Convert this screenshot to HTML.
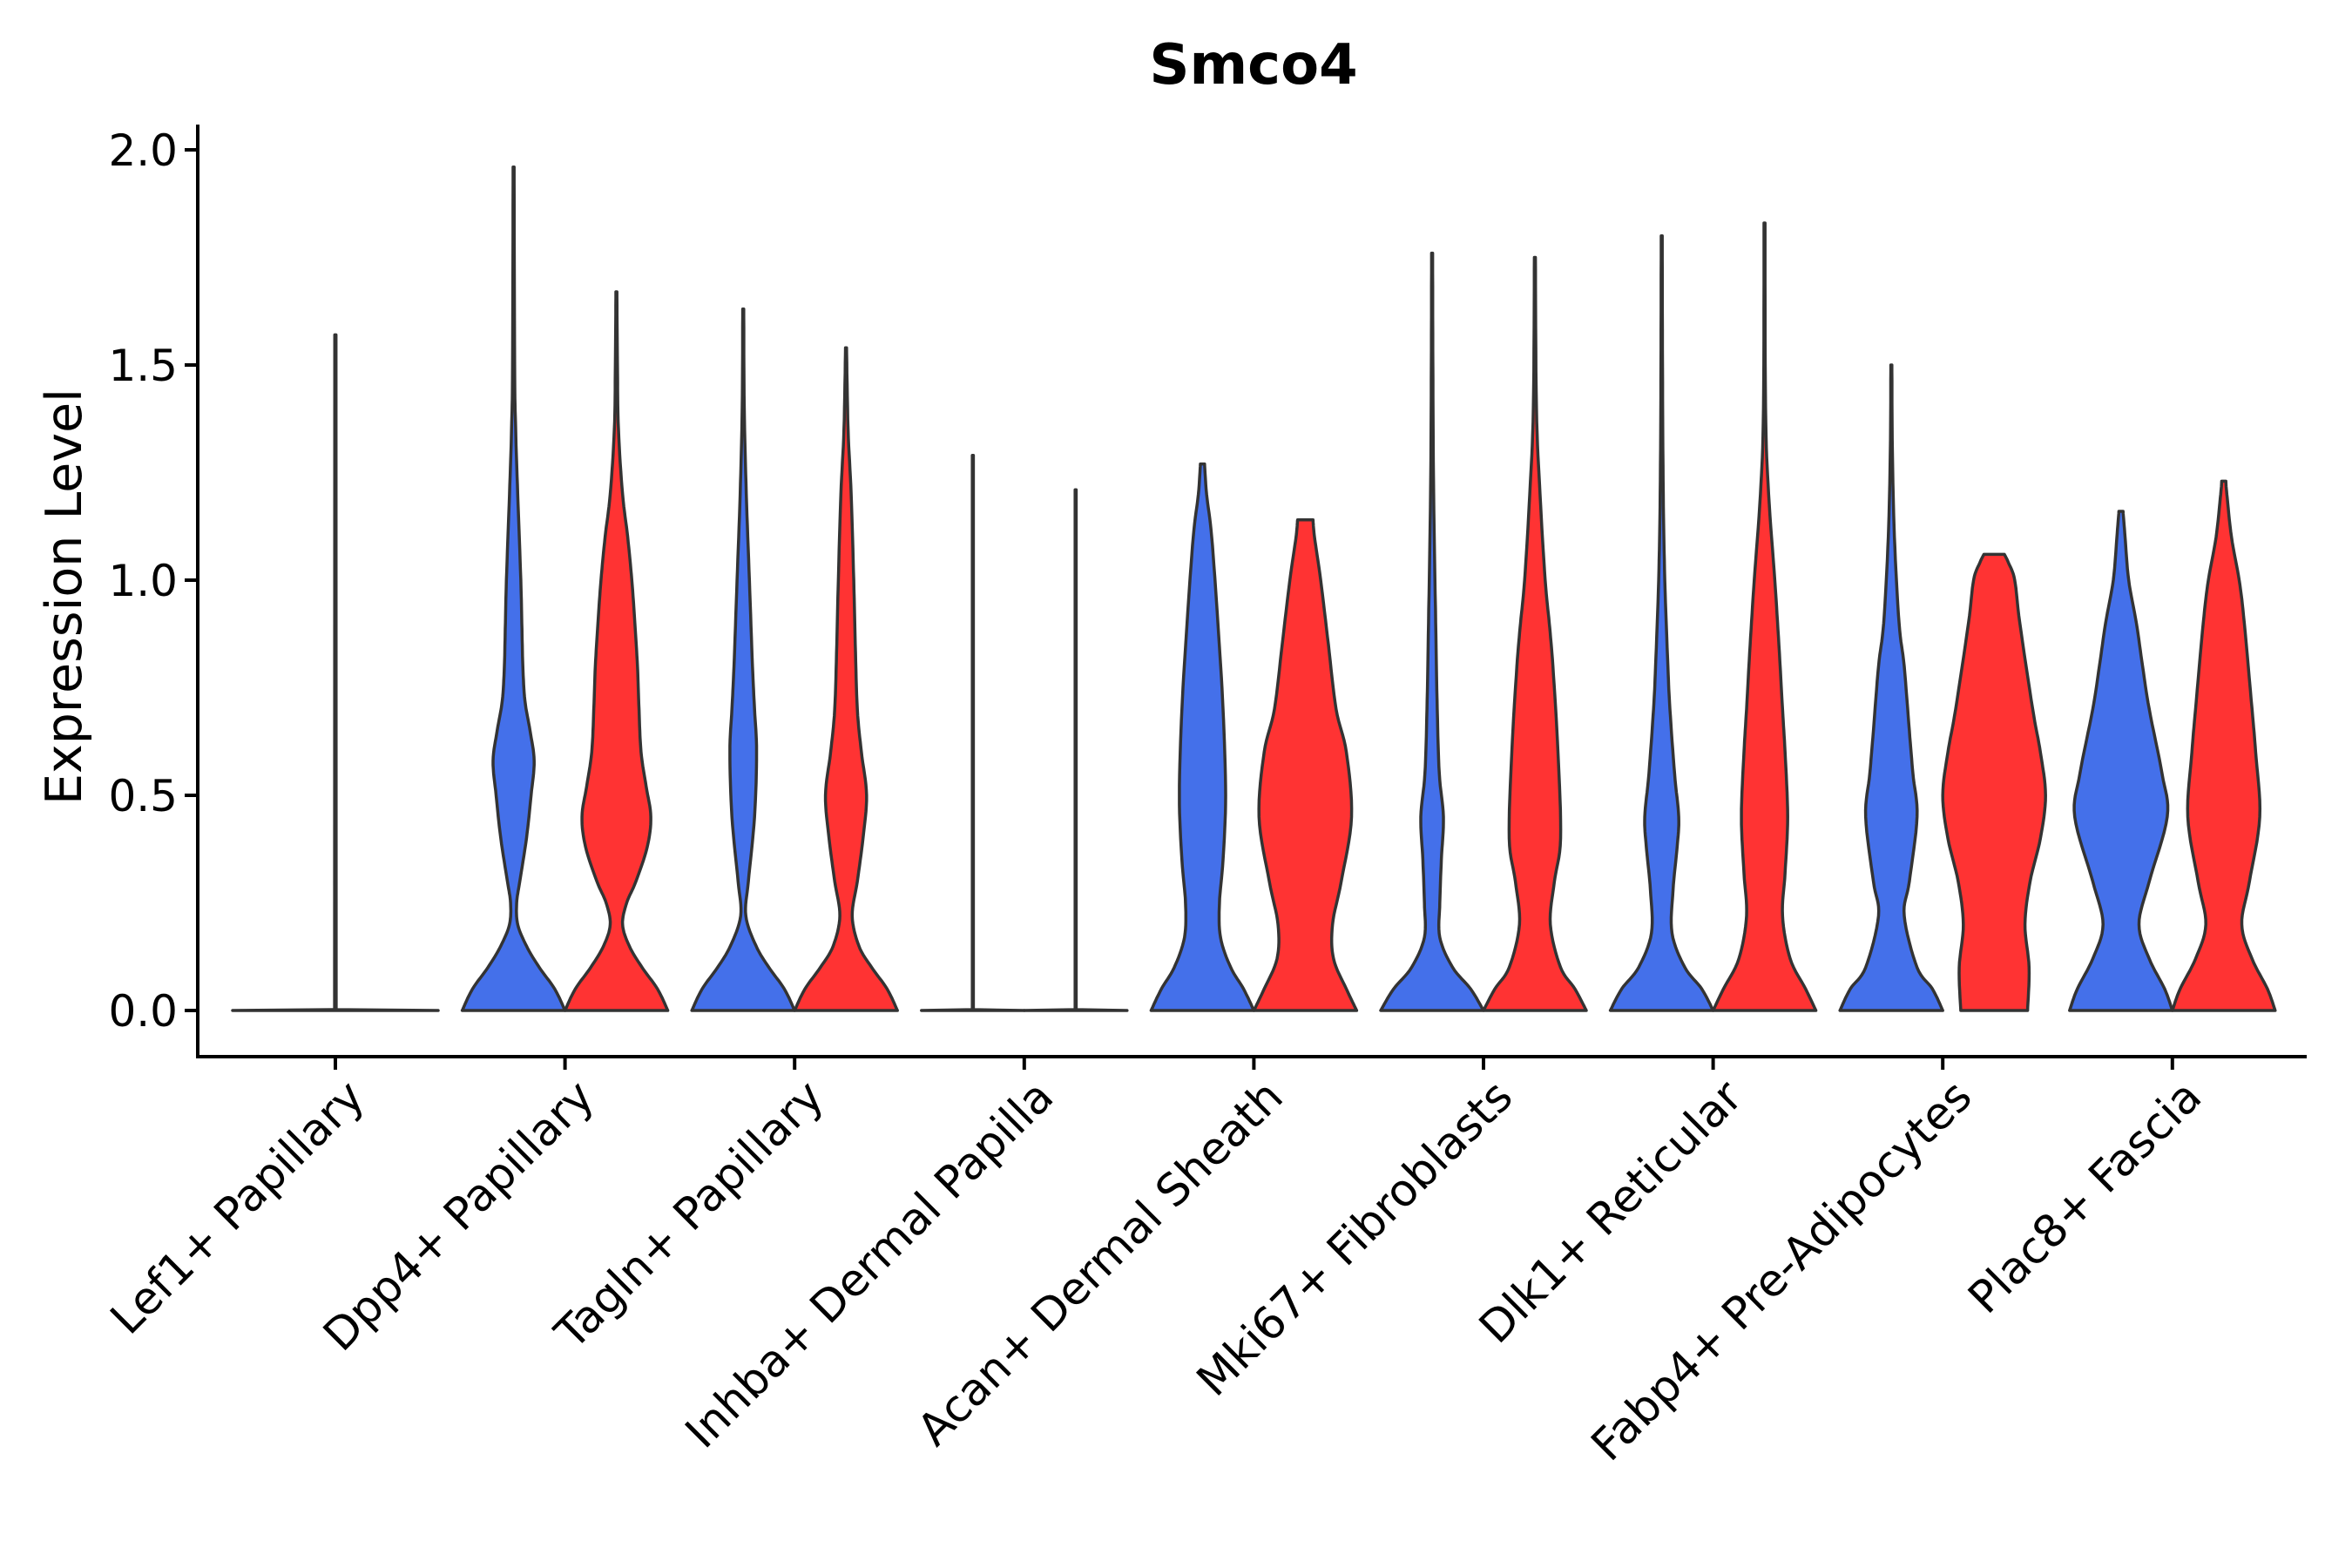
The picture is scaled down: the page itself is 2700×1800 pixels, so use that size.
<!DOCTYPE html>
<html><head><meta charset="utf-8"><style>
html,body{margin:0;padding:0;background:#fff;}
svg{display:block;font-family:"DejaVu Sans","Liberation Sans",sans-serif;}
</style></head><body>
<svg id="chart" width="2700" height="1800" viewBox="0 0 2700 1800" xmlns="http://www.w3.org/2000/svg">
<text x="1439" y="96" text-anchor="middle" font-size="64" font-weight="bold">Smco4</text>
<text transform="translate(93,685) rotate(-90)" text-anchor="middle" font-size="57">Expression Level</text>
<g id="plot"></g>
</svg>
<script>
const categories = ["Lef1+ Papillary","Dpp4+ Papillary","Tagln+ Papillary","Inhba+ Dermal Papilla","Acan+ Dermal Sheath","Mki67+ Fibroblasts","Dlk1+ Reticular","Fabp4+ Pre-Adipocytes","Plac8+ Fascia"];
const yTicks = [0, 0.5, 1.0, 1.5, 2.0];
const yTickLabels = ["0.0","0.5","1.0","1.5","2.0"];
// profiles: [expression value, relative density width]
const blueProfiles = [
 null,
 [[0,1],[0.05,0.8],[0.1,0.5],[0.15,0.25],[0.2,0.08],[0.25,0.06],[0.3,0.12],[0.4,0.25],[0.5,0.34],[0.58,0.4],[0.65,0.32],[0.72,0.22],[0.8,0.18],[0.9,0.16],[1.0,0.14],[1.2,0.08],[1.35,0.04],[1.5,0.02],[1.96,0.01]],
 [[0,1],[0.05,0.8],[0.1,0.5],[0.15,0.25],[0.22,0.05],[0.3,0.1],[0.45,0.22],[0.6,0.26],[0.7,0.22],[0.8,0.18],[1.0,0.12],[1.2,0.06],[1.4,0.02],[1.63,0.01]],
 [[0,1],[0.002,0.01],[1.29,0.01]],
 [[0,1],[0.05,0.8],[0.1,0.55],[0.17,0.35],[0.25,0.33],[0.35,0.4],[0.5,0.45],[0.7,0.4],[0.9,0.3],[1.1,0.18],[1.2,0.08],[1.27,0.04]],
 [[0,1],[0.05,0.75],[0.1,0.4],[0.17,0.15],[0.25,0.15],[0.35,0.18],[0.45,0.22],[0.55,0.14],[0.7,0.1],[0.9,0.07],[1.2,0.03],[1.5,0.015],[1.76,0.01]],
 [[0,1],[0.05,0.78],[0.1,0.45],[0.18,0.2],[0.28,0.22],[0.38,0.3],[0.45,0.33],[0.55,0.25],[0.7,0.16],[0.8,0.12],[1.0,0.06],[1.2,0.03],[1.5,0.015],[1.8,0.01]],
 [[0,1],[0.05,0.8],[0.1,0.5],[0.22,0.25],[0.3,0.35],[0.45,0.5],[0.55,0.42],[0.65,0.35],[0.8,0.25],[0.9,0.15],[1.1,0.06],[1.3,0.02],[1.5,0.01]],
 [[0,1],[0.05,0.85],[0.12,0.55],[0.2,0.35],[0.3,0.55],[0.45,0.9],[0.55,0.8],[0.7,0.55],[0.8,0.42],[0.9,0.3],[1.0,0.15],[1.1,0.08],[1.16,0.04]]
];
const redProfiles = [
 null,
 [[0,1],[0.05,0.8],[0.1,0.5],[0.15,0.25],[0.2,0.12],[0.25,0.2],[0.3,0.38],[0.38,0.6],[0.45,0.67],[0.52,0.58],[0.6,0.48],[0.7,0.44],[0.8,0.41],[0.9,0.36],[1.0,0.3],[1.1,0.22],[1.2,0.12],[1.35,0.04],[1.5,0.02],[1.67,0.01]],
 [[0,1],[0.05,0.8],[0.1,0.5],[0.15,0.25],[0.22,0.12],[0.3,0.22],[0.4,0.33],[0.5,0.4],[0.6,0.3],[0.7,0.22],[0.85,0.18],[1.0,0.15],[1.2,0.1],[1.35,0.04],[1.54,0.01]],
 [[0,1],[0.002,0.01],[1.21,0.01]],
 [[0,1],[0.05,0.8],[0.12,0.55],[0.2,0.53],[0.3,0.7],[0.45,0.9],[0.6,0.8],[0.7,0.6],[0.85,0.45],[1.0,0.3],[1.1,0.18],[1.14,0.15]],
 [[0,1],[0.05,0.78],[0.1,0.5],[0.2,0.3],[0.3,0.38],[0.4,0.5],[0.6,0.45],[0.8,0.35],[0.9,0.28],[1.0,0.2],[1.2,0.1],[1.4,0.03],[1.75,0.01]],
 [[0,1],[0.05,0.8],[0.12,0.5],[0.22,0.35],[0.32,0.4],[0.45,0.45],[0.6,0.4],[0.7,0.35],[0.85,0.28],[1.0,0.2],[1.2,0.08],[1.4,0.02],[1.83,0.01]],
 [[0,0.65],[0.1,0.68],[0.2,0.6],[0.3,0.7],[0.4,0.9],[0.5,1.0],[0.6,0.9],[0.7,0.75],[0.9,0.5],[1.0,0.4],[1.04,0.28],[1.06,0.2]],
 [[0,1],[0.05,0.85],[0.12,0.55],[0.2,0.35],[0.3,0.5],[0.45,0.7],[0.6,0.62],[0.7,0.55],[0.9,0.4],[1.0,0.3],[1.1,0.15],[1.2,0.06],[1.23,0.04]]
];
const singleProfiles = [[[0,1],[0.002,0.008],[1.57,0.006]],null,null,null,null,null,null,null,null];

const NS="http://www.w3.org/2000/svg";
const plot=document.getElementById('plot');
const X0=385, DX=263.6, Y0=1160, YU=494, HW=59;
function xScale(i){return X0+DX*i;}
function yScale(v){return Y0-v*YU;}
function mk(tag,attrs,parent){const e=document.createElementNS(NS,tag);for(const k in attrs)e.setAttribute(k,attrs[k]);(parent||plot).appendChild(e);return e;}

function interp(prof){
  if(prof.length<=3) return prof;
  const out=[];
  for(let k=0;k<prof.length-1;k++){
    const p0=prof[Math.max(k-1,0)],p1=prof[k],p2=prof[k+1],p3=prof[Math.min(k+2,prof.length-1)];
    const n=8;
    for(let s=0;s<n;s++){
      const t=s/n,t2=t*t,t3=t2*t;
      const f=(a,b,c,d)=>0.5*((2*b)+(-a+c)*t+(2*a-5*b+4*c-d)*t2+(-a+3*b-3*c+d)*t3);
      out.push([Math.max(0,f(p0[0],p1[0],p2[0],p3[0])),Math.max(0.004,f(p0[1],p1[1],p2[1],p3[1]))]);
    }
  }
  out.push(prof[prof.length-1]);
  return out;
}
function violinPath(cx,prof,hw){
  const pts=interp(prof);
  let d='';
  pts.forEach((p,i)=>{d+=(i?'L':'M')+(cx+p[1]*hw).toFixed(1)+','+yScale(p[0]).toFixed(1);});
  for(let i=pts.length-1;i>=0;i--){const p=pts[i];d+='L'+(cx-p[1]*hw).toFixed(1)+','+yScale(p[0]).toFixed(1);}
  return d+'Z';
}

categories.forEach((c,i)=>{
  const cx=xScale(i);
  if(singleProfiles[i]){
    const v=mk('path',{d:violinPath(cx,singleProfiles[i],HW*2),fill:'#4470ea',stroke:'#333','stroke-width':3.5,'stroke-linejoin':'round'});
    
    
  }
  if(blueProfiles[i]){
    const v=mk('path',{d:violinPath(cx-HW,blueProfiles[i],HW),fill:'#4470ea',stroke:'#333','stroke-width':3.5,'stroke-linejoin':'round'});
    
    
  }
  if(redProfiles[i]){
    const v=mk('path',{d:violinPath(cx+HW,redProfiles[i],HW),fill:'#ff3333',stroke:'#333','stroke-width':3.5,'stroke-linejoin':'round'});
    
    
  }
  const t=mk('line',{x1:cx,x2:cx,y1:1213,y2:1228,stroke:'#000','stroke-width':4});
  
  
  const lb=mk('text',{transform:'translate('+(cx+10)+',1236) rotate(-45)','text-anchor':'end','dominant-baseline':'hanging','font-size':51});
  lb.textContent=c;
  
  
});

yTicks.forEach((v,i)=>{
  const y=yScale(v);
  const t=mk('line',{x1:212,x2:227,y1:y,y2:y,stroke:'#000','stroke-width':4});
  
  
  const l=mk('text',{x:204,y:y+18,'text-anchor':'end','font-size':50});
  l.textContent=yTickLabels[i];
  
  
});
const ya=mk('line',{x1:227,x2:227,y1:143,y2:1215,stroke:'#000','stroke-width':4});


const xa=mk('line',{x1:225,x2:2648,y1:1213,y2:1213,stroke:'#000','stroke-width':4});


</script>
</body></html>
